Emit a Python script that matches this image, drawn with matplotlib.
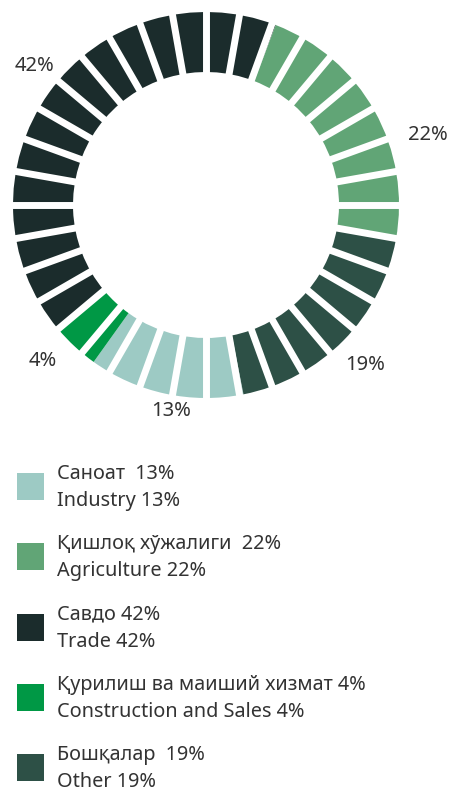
"""Segmented donut of sector shares with a bilingual legend underneath."""

import numpy as np
import matplotlib
matplotlib.use("Agg")
import matplotlib.pyplot as plt          # noqa: E402
from matplotlib.patches import Rectangle  # noqa: E402

plt.rcParams["font.family"] = ["Noto Sans", "DejaVu Sans"]

W_PX, H_PX = 452, 789
DPI = 100

# legend order
labels_uz = ["Саноат  13%", "Қишлоқ хўжалиги  22%", "Савдо 42%",
             "Қурилиш ва маиший хизмат 4%", "Бошқалар  19%"]
labels_en = ["Industry 13%", "Agriculture 22%", "Trade 42%",
             "Construction and Sales 4%", "Other 19%"]
shares = [13, 22, 42, 4, 19]
pct_text = ["13%", "22%", "42%", "4%", "19%"]
colors = ["#9dcac4", "#61a576", "#1b2c2c", "#009845", "#2d5046"]

# clockwise order round the ring, starting with Industry
ring_order = [0, 3, 2, 1, 4]
IND_START = 168.8      # degrees clockwise from 12 o'clock
N_GAPS = 36
TEXT = "#333333"

fig = plt.figure(figsize=(W_PX / DPI, H_PX / DPI), dpi=DPI)

# donut centred at (206, 205) px, outer radius 193 px, inner 133 px
cx, cy, R, R_IN = 206, 205, 193, 133
half = 206
ax = fig.add_axes([(cx - half) / W_PX, (H_PX - cy - half) / H_PX,
                   2 * half / W_PX, 2 * half / H_PX])

total = sum(shares)
deg = [s / total * 360 for s in shares]
vals = [shares[i] for i in ring_order]
ax.pie(vals, colors=[colors[i] for i in ring_order],
       startangle=90 - IND_START, counterclock=False, radius=1.0,
       wedgeprops=dict(width=(R - R_IN) / R, linewidth=0))
ax.set_xlim(-half / R, half / R)
ax.set_ylim(-half / R, half / R)
ax.set_aspect("equal")
ax.axis("off")

# white separators every 10 degrees
for k in range(N_GAPS):
    a = np.deg2rad(90 - k * 360 / N_GAPS)
    ax.plot([0.5 * np.cos(a), 1.05 * np.cos(a)],
            [0.5 * np.sin(a), 1.05 * np.sin(a)],
            color="white", lw=5.0, solid_capstyle="butt")

# percentage labels around the ring: (angle nudge, radius)
nudge = {0: (-2.6, 1.07), 1: (11.0, 1.21), 2: (4.0, 1.15),
         3: (4.0, 1.16), 4: (0.0, 1.16)}
pos = IND_START
for i in ring_order:
    mid = pos + deg[i] / 2
    pos += deg[i]
    da, rr = nudge[i]
    a = np.deg2rad(90 - (mid + da))
    ax.text(rr * np.cos(a), rr * np.sin(a), pct_text[i], ha="center",
            va="center_baseline", fontsize=14.5, color=TEXT, clip_on=False)

# legend
tf = fig.transFigure
for k in range(len(shares)):
    top = 473 + k * 70.3
    fig.patches.append(Rectangle((17 / W_PX, 1 - (top + 27) / H_PX),
                                 27 / W_PX, 27 / H_PX, transform=tf,
                                 facecolor=colors[k], edgecolor="none"))
    fig.text(57 / W_PX, 1 - (top + 6) / H_PX, labels_uz[k], fontsize=14.3,
             color=TEXT, va="baseline", ha="left")
    fig.text(57 / W_PX, 1 - (top + 33) / H_PX, labels_en[k], fontsize=14.3,
             color=TEXT, va="baseline", ha="left")

fig.savefig("out.png", dpi=DPI)
